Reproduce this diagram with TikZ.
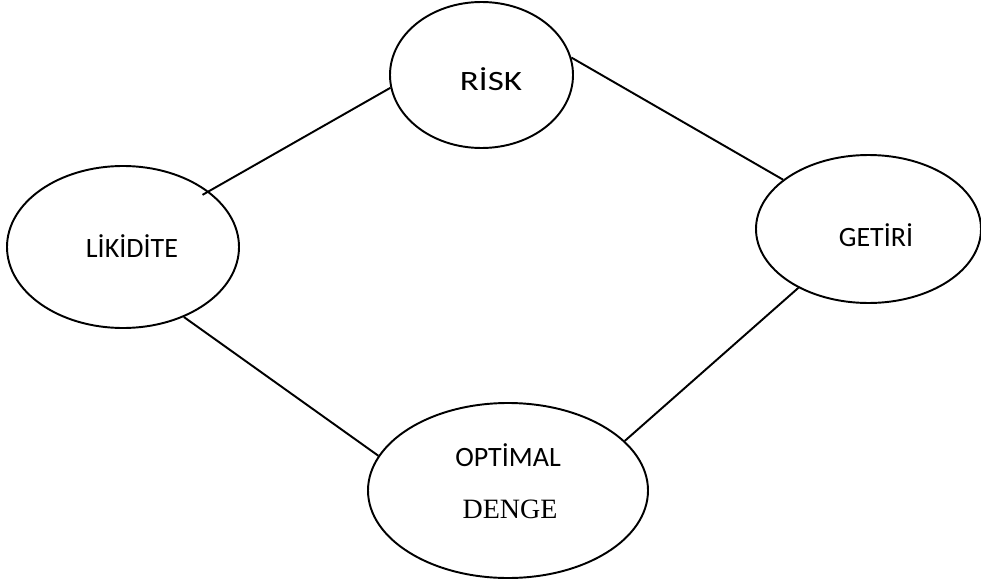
\documentclass[tikz,border=0pt]{standalone}
\usepackage{graphicx}
\usepackage{fontspec}
\setmainfont{Carlito}
\newfontfamily\serifface{Liberation Serif}
\usetikzlibrary{shapes.geometric}
\begin{document}
\begin{tikzpicture}[x=0.75pt,y=-0.75pt,
  oval/.style={draw,ellipse,line width=1.45pt,inner sep=0pt},
  lbl/.style={anchor=base,inner sep=0pt,font=\fontsize{21}{25}\selectfont},
  link/.style={line width=1.45pt}]
\useasboundingbox (0,0) rectangle (981,585);
\node[oval,minimum width=137.25pt,minimum height=109.5pt] (R) at (481.5,75) {};
\node[oval,minimum width=174pt,minimum height=121.5pt] (L) at (123,247) {};
\node[oval,minimum width=168.75pt,minimum height=111pt] (G) at (868.5,229) {};
\node[oval,minimum width=210pt,minimum height=131.25pt] (O) at (508,490.5) {};
\node[lbl] (tR) at (491,90) {\scalebox{1.25}[1]{RİSK}};
\node[lbl] (tL) at (132,257) {LİKİDİTE};
\node[lbl] (tG) at (876,246) {GETİRİ};
\node[lbl] (tO) at (508,466) {OPTİMAL};
\node[lbl,font=\serifface\fontsize{21}{25}\selectfont] (tD) at (510,518) {DENGE};
\draw[link,shorten <=-5.4pt] (L.33) -- (R.188);
\draw[link] (R.11) -- (G.150);
\draw[link] (L.311) -- (O.165);
\draw[link] (G.220) -- (O.23);
\end{tikzpicture}
\end{document}
